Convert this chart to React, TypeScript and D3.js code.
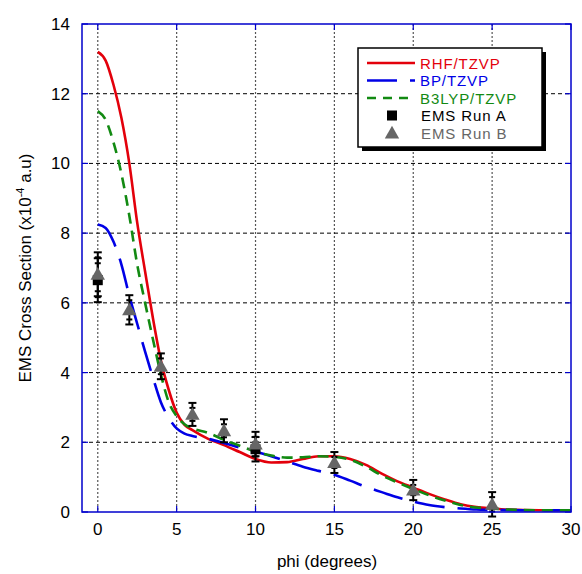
import React from 'react'
import * as d3 from 'd3'

// theory curves, phi (deg) vs cross section (x1e-4 a.u)
const rhfX = [0, 0.5, 1, 1.5, 2, 2.5, 3, 3.5, 4, 4.5, 5, 5.5, 6, 7, 8, 9, 10, 11, 12, 13, 14, 15, 16, 17, 18, 19, 20, 21, 22, 23, 24, 25, 26, 28, 30]
const rhfY = [13.2, 12.95, 12.25, 11.3, 10.0, 8.3, 6.9, 5.55, 4.35, 3.5, 2.85, 2.5, 2.35, 2.1, 1.92, 1.72, 1.52, 1.42, 1.43, 1.52, 1.6, 1.6, 1.52, 1.35, 1.1, 0.88, 0.7, 0.52, 0.36, 0.22, 0.14, 0.1, 0.07, 0.05, 0.05]
const bpX = [0, 0.5, 1, 1.5, 2, 2.5, 3, 3.5, 4, 4.5, 5, 5.5, 6, 7, 8, 9, 10, 11, 12, 13, 14, 15, 16, 17, 18, 19, 20, 21, 22, 23, 24, 25, 27, 30]
const bpY = [8.25, 8.15, 7.75, 7.1, 6.2, 5.4, 4.6, 3.85, 3.15, 2.7, 2.4, 2.25, 2.18, 2.1, 1.98, 1.85, 1.73, 1.6, 1.45, 1.3, 1.18, 1.07, 0.9, 0.72, 0.57, 0.42, 0.3, 0.2, 0.14, 0.1, 0.07, 0.06, 0.05, 0.05]
const b3X = [0, 0.5, 1, 1.5, 2, 2.5, 3, 3.5, 4, 4.5, 5, 5.5, 6, 7, 8, 9, 10, 11, 12, 13, 14, 15, 16, 17, 18, 19, 20, 21, 22, 23, 24, 25, 26, 28, 30]
const b3Y = [11.5, 11.25, 10.6, 9.7, 8.5, 7.1, 6.0, 4.95, 3.95, 3.15, 2.75, 2.52, 2.4, 2.27, 2.07, 1.9, 1.73, 1.62, 1.56, 1.57, 1.6, 1.58, 1.5, 1.3, 1.05, 0.85, 0.66, 0.48, 0.33, 0.2, 0.13, 0.1, 0.07, 0.05, 0.05]

// measurements
const runAX = [0, 10]
const runAY = [6.65, 1.8]
const runAErr = [0.63, 0.35]
const runBX = [0, 2, 4, 6, 8, 10, 15, 20, 25]
const runBY = [6.82, 5.8, 4.18, 2.8, 2.33, 1.95, 1.42, 0.63, 0.22]
const runBErr = [0.63, 0.42, 0.37, 0.33, 0.33, 0.35, 0.3, 0.29, 0.35]

const xTicks = [0, 5, 10, 15, 20, 25, 30]
const yTicks = [0, 2, 4, 6, 8, 10, 12, 14]

const W = 582
const H = 574
const m = { left: 82, top: 24, right: 571, bottom: 512 }
const font = 'Liberation Sans, Arial, Helvetica, sans-serif'

const RED = '#e3000b'
const BLUE = '#0000e6'
const GREEN = '#128a12'
const GRAY = '#666666'
const FRAME = '#0000cc'

export default function App() {
  const x = d3.scaleLinear().domain([-1, 30]).range([m.left, m.right])
  const y = d3.scaleLinear().domain([0, 14]).range([m.bottom, m.top])

  const line = d3
    .line<[number, number]>()
    .x(d => x(d[0]))
    .y(d => y(d[1]))
    .curve(d3.curveMonotoneX)

  const zip = (xs: number[], ys: number[]) => xs.map((v, i) => [v, ys[i]] as [number, number])

  const curves = [
    { name: 'RHF/TZVP', d: line(zip(rhfX, rhfY)), color: RED, dash: undefined, lgDash: undefined },
    { name: 'BP/TZVP', d: line(zip(bpX, bpY)), color: BLUE, dash: '30,13', lgDash: '30,13' },
    { name: 'B3LYP/TZVP', d: line(zip(b3X, b3Y)), color: GREEN, dash: '11,7', lgDash: '9,7' },
  ]

  const errBar = (cx: number, cy: number, e: number, key: string) => {
    const top = y(cy + e)
    const bot = y(cy - e)
    const px = x(cx)
    return (
      <g key={key} stroke="#000" strokeWidth={2}>
        <line x1={px} x2={px} y1={top} y2={bot} />
        <line x1={px - 4} x2={px + 4} y1={top} y2={top} />
        <line x1={px - 4} x2={px + 4} y1={bot} y2={bot} />
        <line x1={px - 3} x2={px + 3} y1={top + 5} y2={top + 5} />
        <line x1={px - 3} x2={px + 3} y1={bot - 5} y2={bot - 5} />
      </g>
    )
  }

  const tri = (px: number, py: number, s: number) =>
    `M${px},${py - s * 0.6} L${px + s * 0.6},${py + s * 0.45} L${px - s * 0.6},${py + s * 0.45} Z`

  const lg = { x: 358, y: 48, w: 184, h: 99 }
  const rowY = [63, 80.5, 98, 115.5, 133]
  const lgFont = 15

  return (
    <div style={{ position: 'absolute', left: 0, top: 0 }}>
      <svg width={W} height={H} style={{ display: 'block', background: '#fff' }} fontFamily={font}>
        <defs>
          <clipPath id="plot">
            <rect x={m.left} y={m.top} width={m.right - m.left} height={m.bottom - m.top} />
          </clipPath>
        </defs>

        {/* grid */}
        {xTicks.filter(t => t < 30).map(t => (
          <line key={'gx' + t} x1={x(t)} x2={x(t)} y1={m.top} y2={m.bottom} stroke="#555" strokeWidth={1.2} strokeDasharray="2,2" />
        ))}
        {yTicks.filter(t => t > 0 && t < 14).map(t => (
          <line key={'gy' + t} x1={m.left} x2={m.right} y1={y(t)} y2={y(t)} stroke="#000" strokeWidth={1} strokeDasharray="4,3" />
        ))}

        {/* ticks inside frame */}
        {xTicks.map(t => (
          <g key={'tx' + t} stroke={FRAME} strokeWidth={1.2}>
            <line x1={x(t)} x2={x(t)} y1={m.bottom} y2={m.bottom - 6} />
            <line x1={x(t)} x2={x(t)} y1={m.top} y2={m.top + 6} />
          </g>
        ))}
        {yTicks.map(t => (
          <g key={'ty' + t} stroke={FRAME} strokeWidth={1.2}>
            <line x1={m.left} x2={m.left + 6} y1={y(t)} y2={y(t)} />
            <line x1={m.right} x2={m.right - 6} y1={y(t)} y2={y(t)} />
          </g>
        ))}

        {/* curves */}
        <g clipPath="url(#plot)" fill="none" strokeWidth={2.6}>
          {curves.map(c => (
            <path key={c.name} d={c.d || ''} stroke={c.color} strokeDasharray={c.dash} />
          ))}
        </g>

        {/* data */}
        {runAX.map((v, i) => errBar(v, runAY[i], runAErr[i], 'ea' + i))}
        {runBX.map((v, i) => errBar(v, runBY[i], runBErr[i], 'eb' + i))}
        {runAX.map((v, i) => (
          <rect key={'a' + i} x={x(v) - 5} y={y(runAY[i]) - 5} width={10} height={10} fill="#000" />
        ))}
        {runBX.map((v, i) => (
          <path key={'b' + i} d={tri(x(v), y(runBY[i]), 12)} fill={GRAY} />
        ))}

        {/* frame */}
        <rect x={m.left} y={m.top} width={m.right - m.left} height={m.bottom - m.top} fill="none" stroke={FRAME} strokeWidth={1.5} />

        {/* tick labels */}
        {xTicks.map(t => (
          <text key={'lx' + t} x={x(t)} y={535} fontSize={17} textAnchor="middle" fill="#000">{t}</text>
        ))}
        {yTicks.map(t => (
          <text key={'ly' + t} x={70} y={y(t) + 6} fontSize={17} textAnchor="end" fill="#000">{t}</text>
        ))}

        {/* axis titles */}
        <text x={327} y={567} fontSize={17} textAnchor="middle" fill="#000">phi (degrees)</text>
        <text transform={`translate(31,${(m.top + m.bottom) / 2}) rotate(-90)`} fontSize={17} textAnchor="middle" fill="#000">
          EMS Cross Section (x10<tspan fontSize={11} dy={-7}>-4</tspan><tspan dy={7}> a.u)</tspan>
        </text>

        {/* legend */}
        <rect x={lg.x + 4} y={lg.y + 4} width={lg.w} height={lg.h} fill="#000" />
        <rect x={lg.x} y={lg.y} width={lg.w} height={lg.h} fill="#fff" stroke="#000" strokeWidth={1.5} />
        {curves.map((c, i) => (
          <g key={'lg' + c.name}>
            <line x1={367} x2={415} y1={rowY[i]} y2={rowY[i]} stroke={c.color} strokeWidth={2.6} strokeDasharray={c.lgDash} />
            <text x={420} y={rowY[i] + 5.5} fontSize={lgFont} letterSpacing={0.9} fill={c.color}>{c.name}</text>
          </g>
        ))}
        <rect x={387} y={rowY[3] - 5} width={10} height={10} fill="#000" />
        <text x={421} y={rowY[3] + 5.5} fontSize={lgFont} letterSpacing={0.9} fill="#000">EMS Run A</text>
        <path d={tri(392, rowY[4], 12)} fill={GRAY} />
        <text x={421} y={rowY[4] + 5.5} fontSize={lgFont} letterSpacing={0.9} fill={GRAY}>EMS Run B</text>
      </svg>
    </div>
  )
}
